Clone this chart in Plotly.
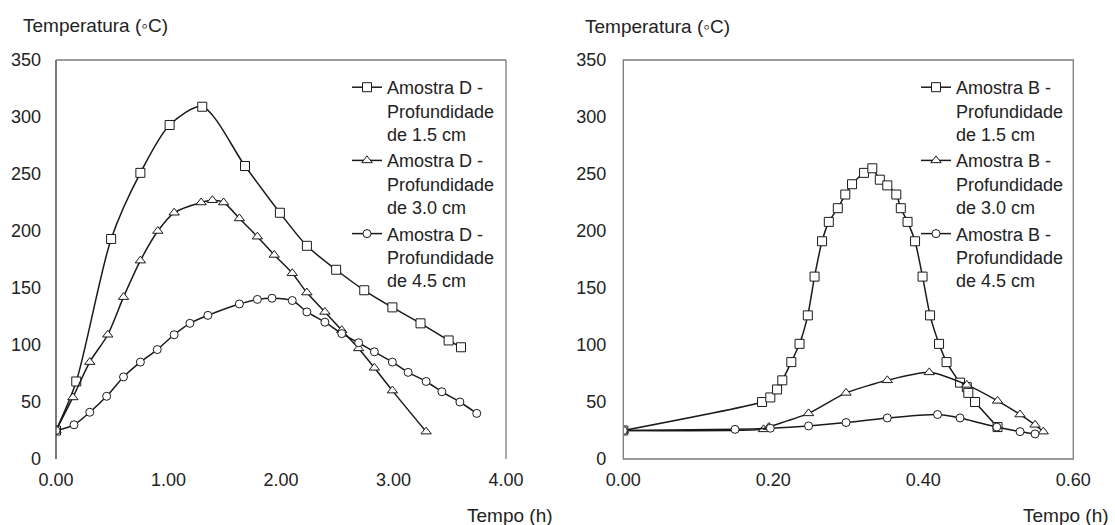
import plotly.graph_objects as go

# ---------------- data ----------------
# Left panel: Amostra D
tD1 = [0, 0.18, 0.49, 0.75, 1.01, 1.30, 1.68, 1.99, 2.23, 2.49, 2.74, 2.99, 3.24, 3.49, 3.60]
TD1 = [25, 68, 193, 251, 293, 309, 257, 216, 187, 166, 148, 133, 119, 104, 98]

tD2 = [0, 0.15, 0.30, 0.46, 0.60, 0.75, 0.905, 1.05, 1.29, 1.39, 1.49, 1.63, 1.79, 1.94,
       2.10, 2.23, 2.39, 2.54, 2.69, 2.83, 2.99, 3.29]
TD2 = [25, 54, 85, 109, 142, 174, 200, 216, 225, 227, 225, 211, 195, 179,
       163, 146, 129, 113, 97, 80, 60, 24]

tD3 = [0, 0.16, 0.30, 0.45, 0.60, 0.75, 0.90, 1.05, 1.19, 1.35, 1.63, 1.79, 1.92, 2.10,
       2.23, 2.39, 2.54, 2.69, 2.83, 2.99, 3.13, 3.29, 3.43, 3.59, 3.74]
TD3 = [25, 30, 41, 55, 72, 85, 96, 109, 119, 126, 136, 140, 141, 139,
       129, 120, 110, 102, 94, 85, 76, 68, 59, 50, 40]

# Right panel: Amostra B
tB1 = [0, 0.185, 0.196, 0.205, 0.212, 0.224, 0.235, 0.246, 0.255, 0.265, 0.274, 0.286,
       0.296, 0.305, 0.321, 0.332, 0.342, 0.352, 0.364, 0.370, 0.379, 0.389, 0.399,
       0.409, 0.421, 0.431, 0.449, 0.458, 0.460, 0.469, 0.499]
TB1 = [25, 50, 54, 61, 69, 85, 101, 126, 160, 191, 208, 220,
       232, 241, 251, 255, 245, 240, 232, 220, 208, 191, 160,
       126, 101, 85, 67, 63, 58, 50, 28]

tB2 = [0, 0.187, 0.194, 0.247, 0.297, 0.352, 0.408, 0.458, 0.499, 0.529, 0.549, 0.560]
TB2 = [25, 26, 28, 40, 58, 69, 76, 65, 51, 39, 30, 24]

tB3 = [0, 0.149, 0.196, 0.247, 0.297, 0.352, 0.419, 0.449, 0.498, 0.529, 0.549]
TB3 = [25, 26, 27, 29, 32, 36, 39, 36, 28, 24, 22]

labelsD = ["Amostra D -<br>Profundidade<br>de 1.5 cm",
           "Amostra D -<br>Profundidade<br>de 3.0 cm",
           "Amostra D -<br>Profundidade<br>de 4.5 cm"]
labelsB = ["Amostra B -<br>Profundidade<br>de 1.5 cm",
           "Amostra B -<br>Profundidade<br>de 3.0 cm",
           "Amostra B -<br>Profundidade<br>de 4.5 cm"]

xticksD = [0, 1, 2, 3, 4]
xticksB = [0, 0.2, 0.4, 0.6]
yticks = [0, 50, 100, 150, 200, 250, 300, 350]

# ---------------- figure ----------------
W, H = 1115, 525
FONT = "Liberation Sans, Arial, sans-serif"
TXT = "#222222"
LINE = "#1a1a1a"

def px(x):
    return x / W

def py(y):
    return 1 - y / H

symbols = ["square", "triangle-up", "circle"]
msizes = [9, 9, 8]

fig = go.Figure()

for i, (t, T) in enumerate([(tD1, TD1), (tD2, TD2), (tD3, TD3)]):
    fig.add_trace(go.Scatter(
        x=t, y=T, mode="lines+markers", name=labelsD[i],
        line=dict(color=LINE, width=1.5, shape="spline", smoothing=0.8),
        marker=dict(symbol=symbols[i], size=msizes[i], color="white",
                    line=dict(color=LINE, width=1)),
        xaxis="x", yaxis="y", legend="legend"))

for i, (t, T) in enumerate([(tB1, TB1), (tB2, TB2), (tB3, TB3)]):
    fig.add_trace(go.Scatter(
        x=t, y=T, mode="lines+markers", name=labelsB[i],
        line=dict(color=LINE, width=1.5, shape="spline", smoothing=0.6),
        marker=dict(symbol=symbols[i], size=msizes[i], color="white",
                    line=dict(color=LINE, width=1)),
        xaxis="x2", yaxis="y2", legend="legend2"))

y_dom = [py(459), py(60)]
axis_common = dict(showgrid=False, zeroline=False, showline=False, ticks="",
                   automargin=False,
                   tickfont=dict(family=FONT, size=18, color=TXT))

fig.update_layout(
    width=W, height=H, autosize=False,
    margin=dict(l=0, r=0, t=0, b=0, pad=0, autoexpand=False),
    paper_bgcolor="white", plot_bgcolor="white",
    font=dict(family=FONT, size=18, color=TXT),
    xaxis=dict(domain=[px(56), px(506)], range=[0, 4], tickvals=xticksD,
               tickformat=".2f", anchor="y", ticklabelstandoff=8, **axis_common),
    yaxis=dict(domain=y_dom, range=[0, 350], tickvals=yticks, anchor="x",
               ticklabelstandoff=14, **axis_common),
    xaxis2=dict(domain=[px(623.3), px(1073.3)], range=[0, 0.6], tickvals=xticksB,
                tickformat=".2f", anchor="y2", ticklabelstandoff=8, **axis_common),
    yaxis2=dict(domain=y_dom, range=[0, 350], tickvals=yticks, anchor="x2",
                ticklabelstandoff=16, **axis_common),
    legend=dict(x=px(347), y=py(69), xanchor="left", yanchor="top",
                bgcolor="rgba(0,0,0,0)", font=dict(family=FONT, size=18, color=TXT),
                itemwidth=30, valign="top", tracegroupgap=0),
    legend2=dict(x=px(916), y=py(69), xanchor="left", yanchor="top",
                 bgcolor="rgba(0,0,0,0)", font=dict(family=FONT, size=18, color=TXT),
                 itemwidth=30, valign="top", tracegroupgap=0),
    showlegend=True,
)

# frames
frame_gray = "#7a7a7a"
shapes = [
    # left panel: left, top, right
    dict(type="line", xref="x domain", yref="y domain", x0=0, x1=0, y0=0, y1=1,
         line=dict(color="#333333", width=1.3)),
    dict(type="line", xref="x domain", yref="y domain", x0=0, x1=1, y0=1, y1=1,
         line=dict(color=frame_gray, width=1.3)),
    dict(type="line", xref="x domain", yref="y domain", x0=1, x1=1, y0=0, y1=1,
         line=dict(color=frame_gray, width=1.3)),
    # right panel: full box
    dict(type="rect", xref="x2 domain", yref="y2 domain", x0=0, x1=1, y0=0, y1=1,
         line=dict(color=frame_gray, width=1.3), fillcolor="rgba(0,0,0,0)"),
]
fig.update_layout(shapes=shapes)

ann_font = dict(family=FONT, size=19, color=TXT)
fig.update_layout(annotations=[
    dict(text="Temperatura (◦C)", x=px(21), y=py(25), xref="paper", yref="paper",
         xanchor="left", yanchor="middle", showarrow=False, font=ann_font),
    dict(text="Temperatura (◦C)", x=px(583), y=py(27), xref="paper", yref="paper",
         xanchor="left", yanchor="middle", showarrow=False, font=ann_font),
    dict(text="Tempo (h)", x=px(555), y=py(515), xref="paper", yref="paper",
         xanchor="right", yanchor="middle", showarrow=False, font=ann_font),
    dict(text="Tempo (h)", x=px(1111), y=py(515), xref="paper", yref="paper",
         xanchor="right", yanchor="middle", showarrow=False, font=ann_font),
])

fig.write_html("out.html")
